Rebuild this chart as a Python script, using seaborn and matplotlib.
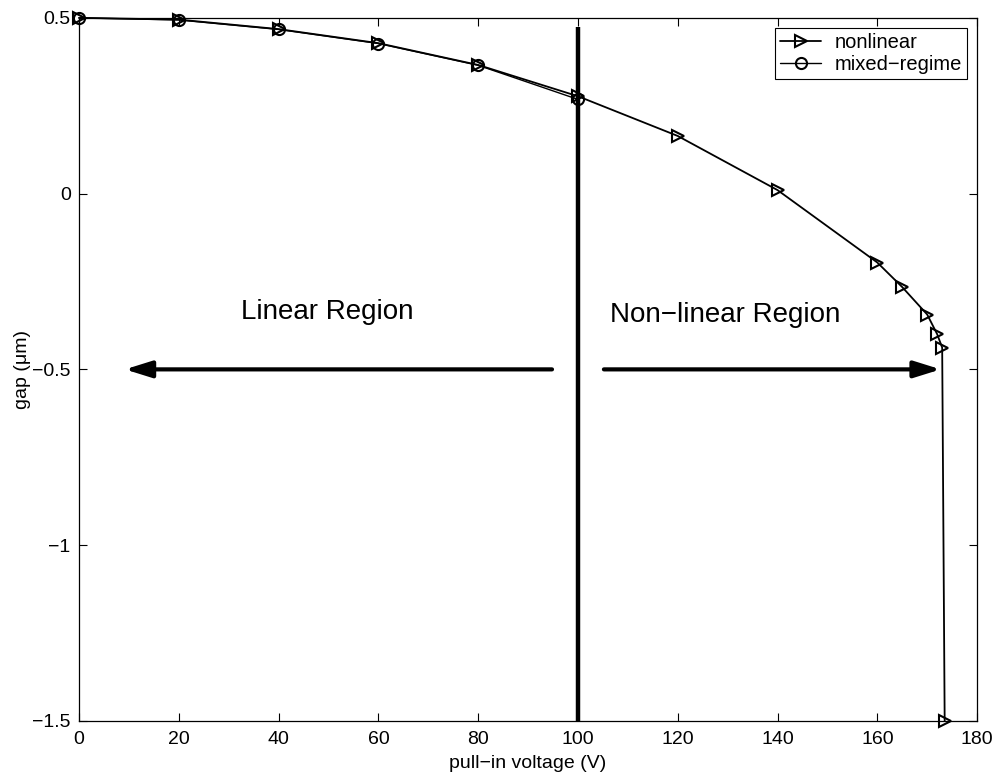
import matplotlib
matplotlib.use("Agg")
import matplotlib.pyplot as plt
import seaborn as sns
import pandas as pd

# pull-in voltage (V) and gap (um) for each model
voltage_nonlinear = [0, 20, 40, 60, 80, 100, 120, 140, 160, 165, 170, 172, 173, 173.5]
gap_nonlinear = [0.5, 0.495, 0.468, 0.428, 0.366, 0.277, 0.164, 0.01, -0.196, -0.266,
                 -0.344, -0.40, -0.438, -1.5]
voltage_mixed = [0, 20, 40, 60, 80, 100]
gap_mixed = [0.5, 0.494, 0.467, 0.427, 0.365, 0.268]

x_ticks = [0, 20, 40, 60, 80, 100, 120, 140, 160, 180]
y_ticks = [-1.5, -1, -0.5, 0, 0.5]
y_tick_labels = ["\u22121.5", "\u22121", "\u22120.5", "0", "0.5"]

boundary_voltage = 100
arrow_level = -0.5

sns.set_style("ticks")
plt.rcParams["font.family"] = ["Liberation Sans", "DejaVu Sans"]
plt.rcParams["xtick.direction"] = "in"
plt.rcParams["ytick.direction"] = "in"
plt.rcParams["text.color"] = "black"
plt.rcParams["axes.labelcolor"] = "black"

fig = plt.figure(figsize=(9.94, 7.76), dpi=100)
ax = fig.add_axes([0.0795, 0.071, 0.9035, 0.906])

df_nl = pd.DataFrame({"v": voltage_nonlinear, "g": gap_nonlinear})
df_mx = pd.DataFrame({"v": voltage_mixed, "g": gap_mixed})

sns.lineplot(data=df_nl, x="v", y="g", ax=ax, sort=False, color="black", lw=1.3,
             marker=">", markersize=9, markerfacecolor="none", markeredgecolor="black",
             markeredgewidth=1.5, label="nonlinear", clip_on=False, zorder=4)
sns.lineplot(data=df_mx, x="v", y="g", ax=ax, sort=False, color="black", lw=1.0,
             marker="o", markersize=8, markerfacecolor="none", markeredgecolor="black",
             markeredgewidth=1.5, label="mixed\u2212regime", clip_on=False, zorder=4)

# boundary between the two regimes
ax.plot([boundary_voltage, boundary_voltage], [-1.5, 0.474], color="black", lw=3.2,
        solid_capstyle="butt")

arrow_style = dict(arrowstyle="-|>,head_length=1.6,head_width=0.5", color="black",
                   lw=3, shrinkA=0, shrinkB=0)
ax.annotate("", xy=(9.2, arrow_level), xytext=(94.8, arrow_level), arrowprops=arrow_style)
ax.annotate("", xy=(172.7, arrow_level), xytext=(105.2, arrow_level), arrowprops=arrow_style)

ax.text(49.8, -0.338, "Linear Region", fontsize=20, ha="center", va="center")
ax.text(129.6, -0.345, "Non\u2212linear Region", fontsize=20, ha="center", va="center")

ax.set_xlim(0, 180)
ax.set_ylim(-1.5, 0.5)
ax.set_xticks(x_ticks)
ax.set_yticks(y_ticks)
ax.set_yticklabels(y_tick_labels)
ax.tick_params(axis="both", which="both", top=True, right=True, length=6, width=0.8,
               labelsize=14, color="black", labelcolor="black")
ax.tick_params(axis="x", pad=7)
ax.tick_params(axis="y", pad=6)
for s in ax.spines.values():
    s.set_linewidth(0.9)
    s.set_color("black")

ax.set_xlabel("pull\u2212in voltage (V)", fontsize=14, labelpad=5)
ax.set_ylabel("gap (\u03bcm)", fontsize=14, labelpad=1)

leg = ax.legend(loc="upper right", bbox_to_anchor=(0.989, 0.986), fontsize=14.5,
                frameon=True, fancybox=False, edgecolor="black", framealpha=1,
                handlelength=2.0, borderpad=0.25, labelspacing=0.15, handletextpad=0.7,
                borderaxespad=0)
leg.get_frame().set_linewidth(0.8)

fig.savefig("out.png", dpi=100)
